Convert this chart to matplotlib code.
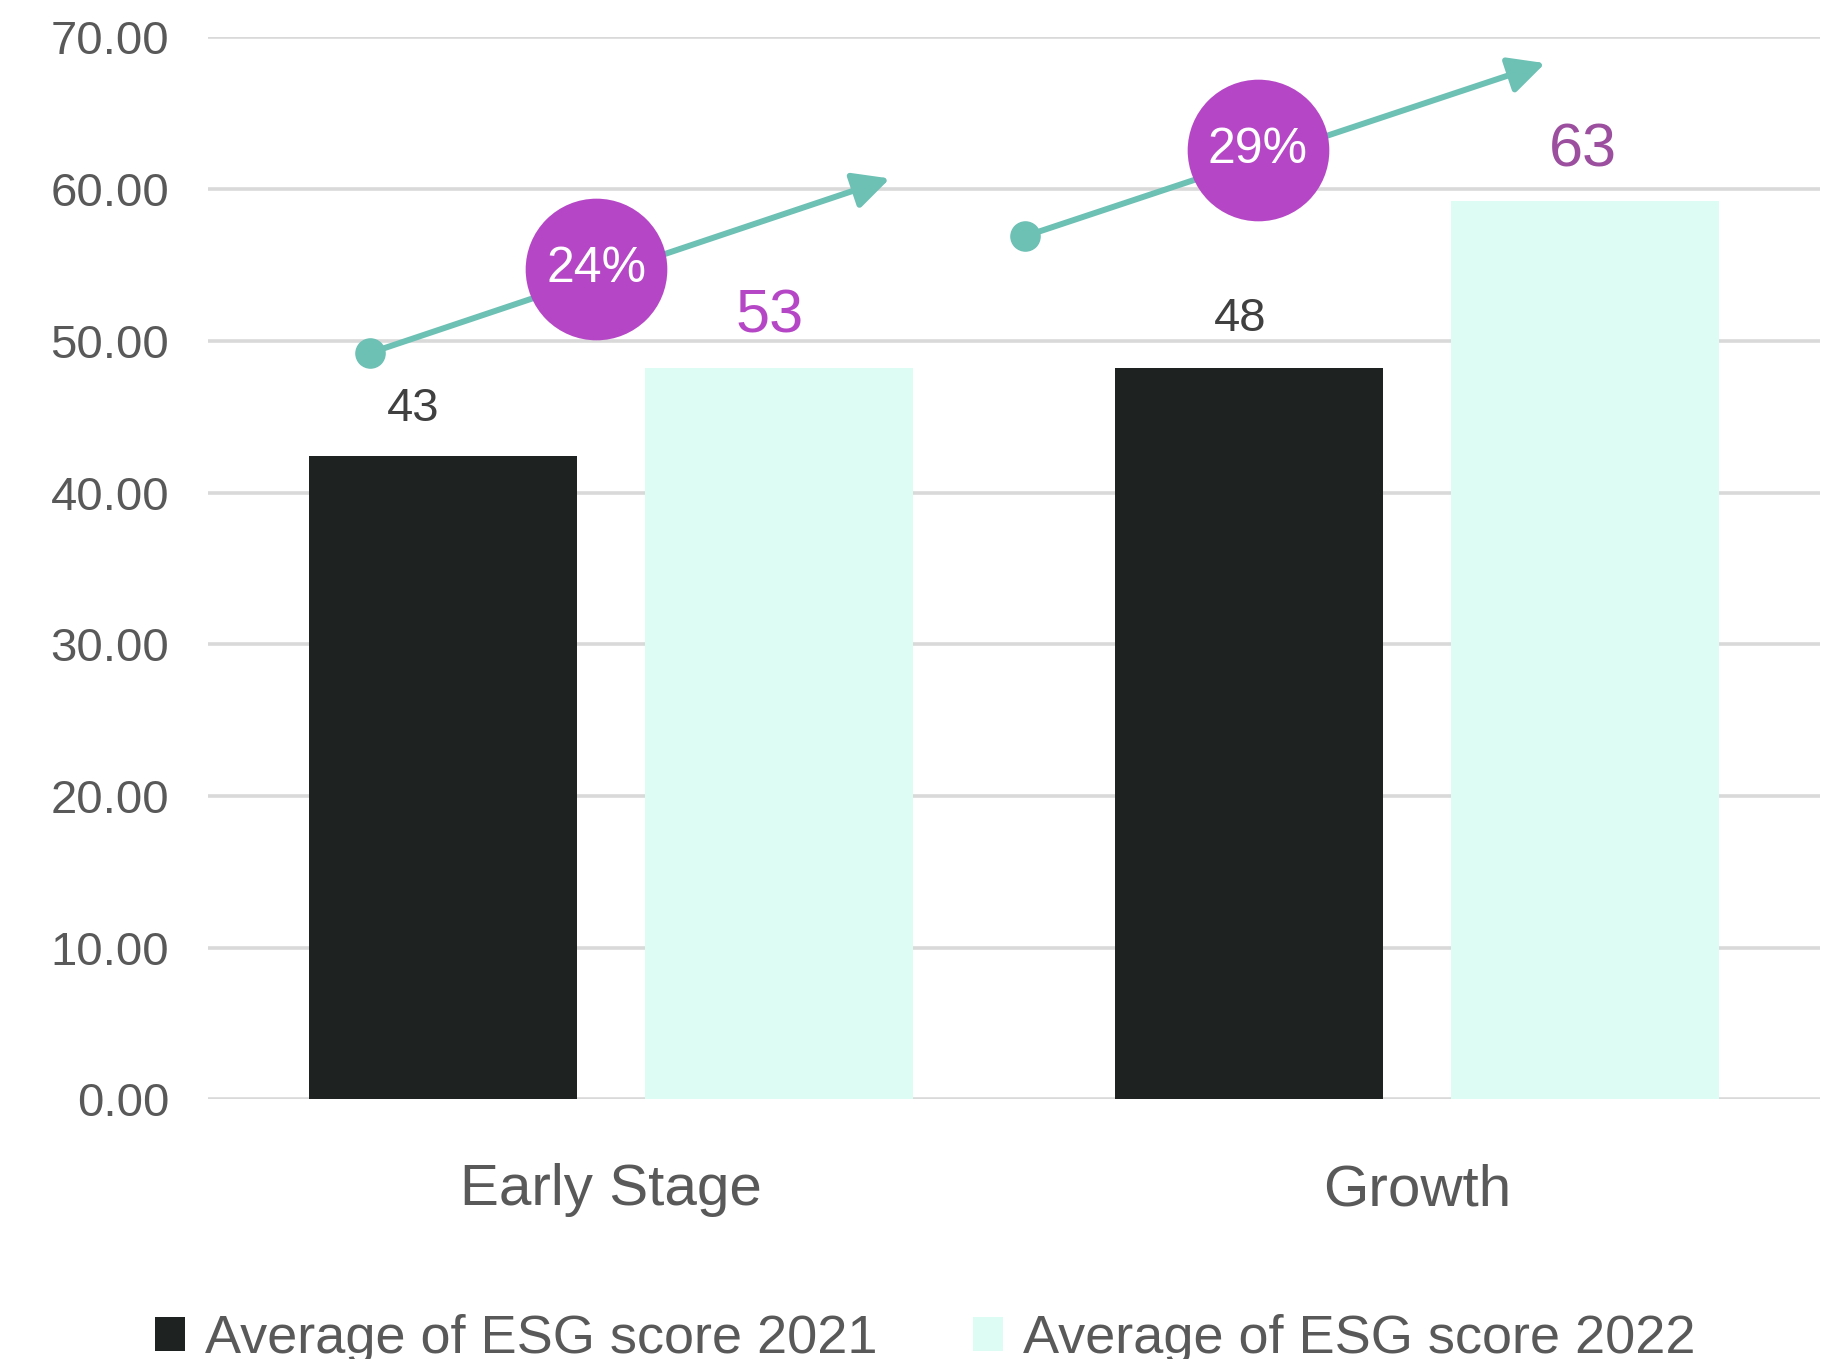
import matplotlib
matplotlib.use("Agg")
import matplotlib.pyplot as plt
import numpy as np

# ---- data ----
categories = ["Early Stage", "Growth"]
score_2021 = [42.4, 48.2]
score_2022 = [48.2, 59.2]
labels_2021 = ["43", "48"]
labels_2022 = ["53", "63"]
growth_pct = ["24%", "29%"]
arrow_start_y = [49.2, 56.9]
arrow_end_y = [60.7, 68.3]
series_names = ["Average of ESG score 2021", "Average of ESG score 2022"]
yticks = [0, 10, 20, 30, 40, 50, 60, 70]

# ---- style ----
plt.rcParams["font.family"] = ["Liberation Sans", "DejaVu Sans"]
DARK = "#1e2221"
LIGHT = "#dcfcf4"
TEAL = "#6cc0b4"
PURPLE = "#b547c6"
PURPLE2 = "#9b4f9e"
GRID = "#d9d9d9"
TXT = "#595959"
VAL = "#404040"

fig = plt.figure(figsize=(18.34, 13.59), dpi=100)
ax = fig.add_axes([0.1134, 0.191, 0.879, 0.7815])

x = np.arange(len(categories))
w = 0.333
off = 0.2085
ax.bar(x - off, score_2021, width=w, color=DARK, zorder=2, label=series_names[0])
ax.bar(x + off, score_2022, width=w, color=LIGHT, zorder=2, label=series_names[1])

ax.set_xlim(-0.5, 1.5)
ax.set_ylim(0, 70)
ax.set_yticks(yticks)
ax.set_yticklabels([f"{t:.2f}" for t in yticks], fontsize=34, color=TXT)
ax.set_xticks(x)
ax.set_xticklabels(categories, fontsize=42, color=TXT)
ax.tick_params(axis="y", length=0, pad=28)
ax.tick_params(axis="x", length=0, pad=46)
for s in ax.spines.values():
    s.set_visible(False)
ax.yaxis.grid(True, color=GRID, linewidth=2.6, zorder=0)
ax.set_axisbelow(True)

# value labels
dx_2021 = [-0.037, -0.011]
dx_2022 = [-0.012, -0.003]
dy_2021 = [3.1, 3.25]
dy_2022 = [3.4, 3.3]
for i in range(len(categories)):
    ax.text(x[i] - off + dx_2021[i], score_2021[i] + dy_2021[i], labels_2021[i], fontsize=34,
            color=VAL, ha="center", va="center", zorder=5)
    col = PURPLE if i == 0 else PURPLE2
    ax.text(x[i] + off + dx_2022[i], score_2022[i] + dy_2022[i], labels_2022[i], fontsize=44,
            color=col, ha="center", va="center", zorder=5)

# growth arrows with percentage bubbles
start_dx = [-0.299, -0.486]
end_dx = [0.346, 0.159]
bubble_t = [0.435, 0.447]
for i in range(len(categories)):
    sx, ex = x[i] + start_dx[i], x[i] + end_dx[i]
    sy, ey = arrow_start_y[i], arrow_end_y[i]
    ax.annotate("", xy=(ex, ey), xytext=(sx, sy),
                arrowprops=dict(arrowstyle="-|>,head_length=1.1,head_width=0.55",
                                color=TEAL, lw=4.3, mutation_scale=20,
                                shrinkA=0, shrinkB=0), zorder=3)
    ax.plot([sx], [sy], marker="o", ms=21, color=TEAL, zorder=3, clip_on=False)
    t = bubble_t[i]
    cx, cy = sx + t * (ex - sx), sy + t * (ey - sy) + 0.55
    ax.plot([cx], [cy], marker="o", ms=102, color=PURPLE, mec="none", zorder=4, clip_on=False)
    ax.text(cx, cy, growth_pct[i], fontsize=36, color="white", ha="center",
            va="center", zorder=5)

leg = fig.legend(loc="center left", bbox_to_anchor=(0.0845, 0.0147), ncol=2,
                 frameon=False, fontsize=39, handlelength=0.55, handleheight=0.57,
                 handletextpad=0.37, columnspacing=1.77, borderpad=0, borderaxespad=0)
for t in leg.get_texts():
    t.set_color(TXT)

fig.savefig("out.png", dpi=100)
